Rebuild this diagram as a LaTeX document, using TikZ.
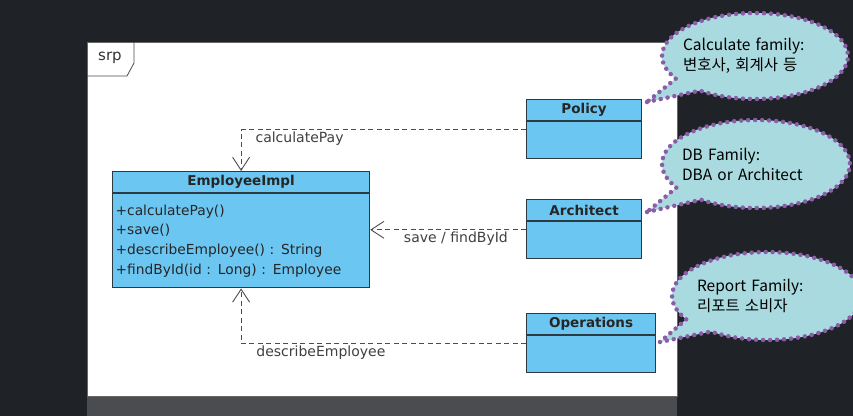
\documentclass[tikz,border=0pt]{standalone}
\usepackage{fontspec}
\newfontfamily\umlfont{DejaVu Sans}
\newfontfamily\notefont{Noto Sans CJK KR}
\usetikzlibrary{arrows.meta,positioning,shapes.callouts}
\definecolor{umlblue}{HTML}{6CC6F2}
\definecolor{umlline}{HTML}{2C3A44}
\definecolor{notefill}{HTML}{A9DADF}
\definecolor{notedots}{HTML}{8B5CA8}
\definecolor{slate}{HTML}{1F2226}
\definecolor{strip}{HTML}{4A4C4F}

\begin{document}
\begin{tikzpicture}[x=1pt,y=-1pt,
  classhead/.style={draw=umlline, fill=umlblue, line width=1.2pt,
    minimum height=21, inner sep=0pt, anchor=north west,
    font=\umlfont\bfseries\fontsize{13.5}{15}\selectfont, text=black!85},
  classbody/.style={draw=umlline, fill=umlblue, line width=1.2pt,
    minimum height=37, inner sep=0pt},
  dep/.style={draw=black!70, line width=0.9pt, dash pattern=on 5pt off 3.5pt,
    -{Straight Barb[length=13pt,width=17pt]}},
  lbl/.style={font=\umlfont\fontsize{14}{16}\selectfont, text=black!75, inner sep=2pt},
  note/.style={ellipse callout, fill=notefill, draw=notedots, line width=4.5pt,
    dash pattern=on 0pt off 7pt, line cap=round, align=left, inner ysep=0pt,
    inner xsep=-14pt, callout pointer arc=22,
    font=\notefont\fontsize{15.5}{20}\selectfont}
]
\useasboundingbox (0,0) rectangle (853,416);
\fill[slate] (0,0) rectangle (853,416);
\fill[strip] (87,397) rectangle (677,416);

% frame
\node[draw=black!60, fill=white, line width=0.8pt, inner sep=0pt, anchor=north west,
  minimum width=590, minimum height=354] (srpFrame) at (87,42) {};
\draw[draw=black!70, line width=0.8pt] (87,76) -- (127,76) -- (134,63) -- (134,42);
\node[font=\umlfont\fontsize{15}{17}\selectfont, text=black!80] (srpTag) at (110,58) {srp};

% classes
\node[classhead, minimum width=257] (employee) at (112,171) {EmployeeImpl};
\node[classbody, below=0pt of employee, text width=251pt, minimum height=94,
  inner xsep=3pt, align=left, font=\umlfont\fontsize{13.8}{19.6}\selectfont,
  text=black!85] (employeeBody)
  {+calculatePay()\\+save()\\+describeEmployee() : String\\+findById(id : Long) : Employee};

\node[classhead, minimum width=115] (policy) at (526,99) {Policy};
\node[classbody, minimum width=115, below=0pt of policy] (policyBody) {};
\node[classhead, minimum width=115] (architect) at (526,199) {Architect};
\node[classbody, minimum width=115, below=0pt of architect] (architectBody) {};
\node[classhead, minimum width=129] (operations) at (526,313) {Operations};
\node[classbody, minimum width=129, below=0pt of operations] (operationsBody) {};

% dependencies
\coordinate (archOut) at ([yshift=10.5pt]architectBody.west);
\draw[dep] ([yshift=10.5pt]policyBody.west) -|
  node[lbl, pos=0.5, anchor=north west, xshift=12pt] {calculatePay} (employee.north);
\draw[dep] (archOut) --
  node[lbl, pos=0.45, below] {save / findById} (archOut -| employeeBody.east);
\draw[dep] ([yshift=10.5pt]operationsBody.west) -|
  node[lbl, pos=0.36, below] {describeEmployee} (employeeBody.south);

% notes
\node[note, text width=144pt, minimum width=186, minimum height=86,
  callout absolute pointer={(647,102)}]
  (calcNote) at (755,56) {Calculate family:\\변호사, 회계사 등};
\node[note, text width=148pt, minimum width=188, minimum height=88,
  callout absolute pointer={(647,212)}]
  (dbNote) at (756,164) {DB Family:\\DBA or Architect};
\node[note, text width=140pt, minimum width=190, minimum height=88,
  callout absolute pointer={(660,342)}]
  (reportNote) at (767,296) {Report Family:\\리포트 소비자};
\end{tikzpicture}
\end{document}
